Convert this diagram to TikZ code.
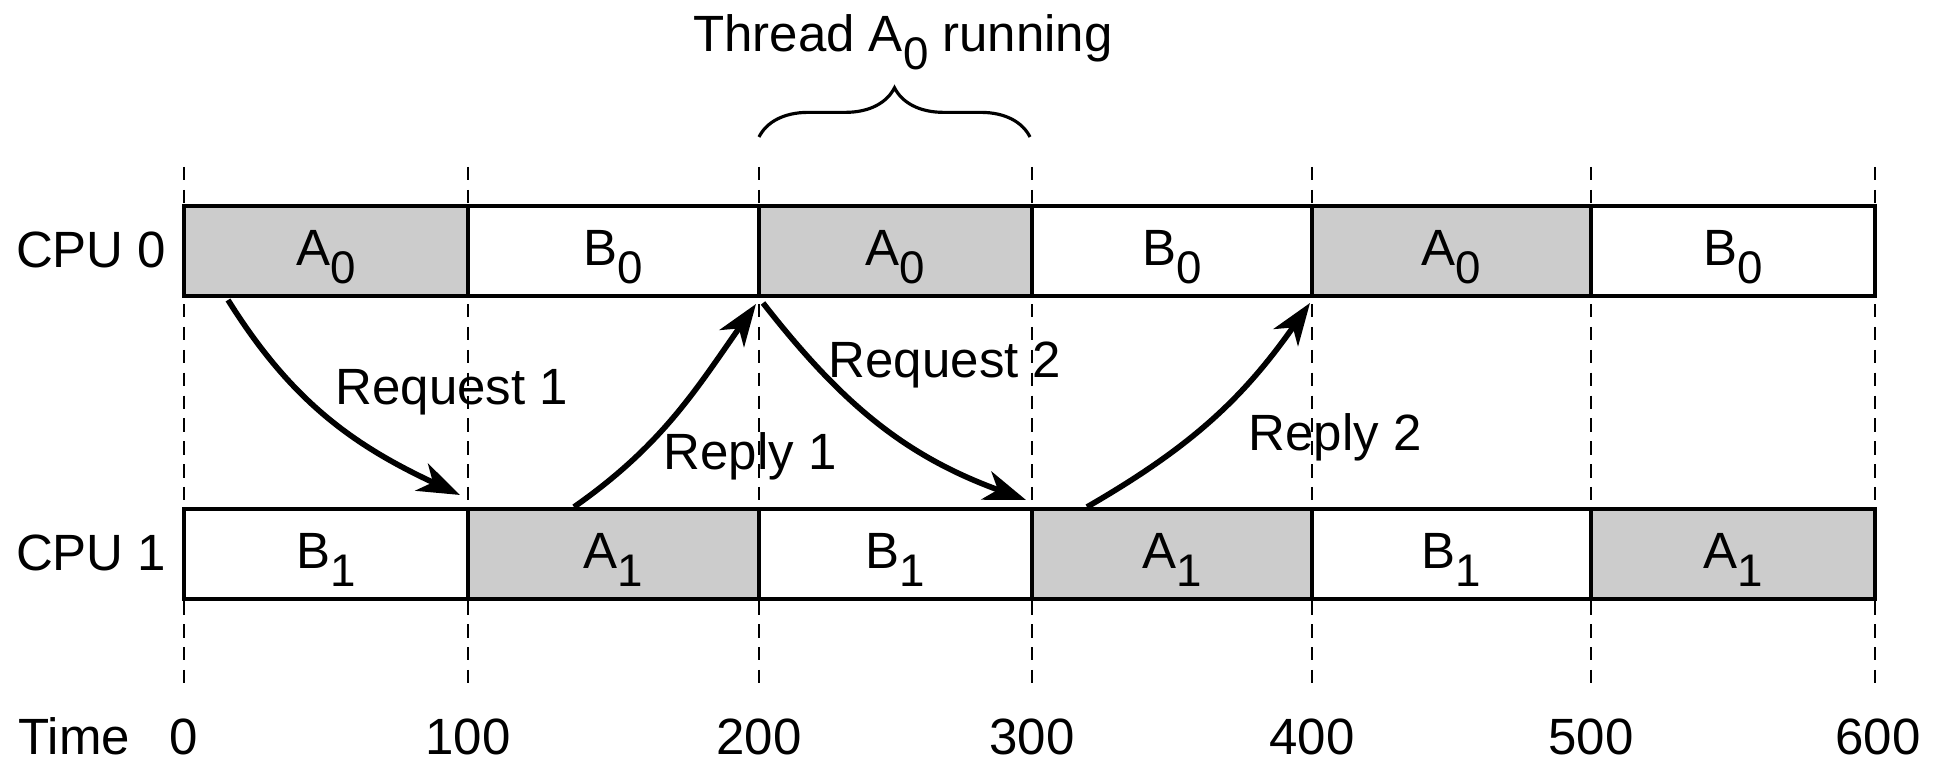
\documentclass[tikz,border=0pt]{standalone}
\usepackage{fontspec}
\setmainfont{Liberation Sans}
\usetikzlibrary{arrows.meta,decorations.pathreplacing}
\newcommand{\lsub}[1]{\raisebox{-0.34em}{\fontsize{13}{13}\selectfont #1}}
\begin{document}
\begin{tikzpicture}[x=0.01cm,y=-0.01cm,
  lbl/.style={font=\fontsize{14.5}{17}\selectfont, inner sep=0pt, anchor=base},
  slot/.style={draw=black, line width=1.3pt},
  busy/.style={slot, fill=black!20},
  idle/.style={slot, fill=white},
  gridline/.style={line width=0.75pt, dash pattern=on 3.8pt off 2.7pt},
  msg/.style={line width=1.6pt, -{Stealth[length=12pt,width=8.5pt,inset=3.5pt]}},
  bracestyle/.style={line width=0.9pt, decorate, decoration={brace, amplitude=14pt}},
]
\useasboundingbox (0,0) rectangle (1935,765);

% time grid
\foreach \x [count=\k from 0] in {184,468,759,1032,1312,1591,1875} {
  \coordinate (g\k top) at (\x,167);
  \coordinate (g\k bot) at (\x,688);
  \draw[gridline] (g\k top) -- (g\k bot);
}

% CPU 0 row
\draw[busy] (184,206) rectangle (468,296);
\draw[idle] (468,206) rectangle (759,296);
\draw[busy] (759,206) rectangle (1032,296);
\draw[idle] (1032,206) rectangle (1312,296);
\draw[busy] (1312,206) rectangle (1591,296);
\draw[idle] (1591,206) rectangle (1875,296);

% CPU 1 row
\draw[idle] (184,509) rectangle (468,599);
\draw[busy] (468,509) rectangle (759,599);
\draw[idle] (759,509) rectangle (1032,599);
\draw[busy] (1032,509) rectangle (1312,599);
\draw[idle] (1312,509) rectangle (1591,599);
\draw[busy] (1591,509) rectangle (1875,599);

% slot labels
\node[lbl] (a0a) at (326,266) {A\lsub{0}};
\node[lbl] (b0a) at (613,266) {B\lsub{0}};
\node[lbl] (a0b) at (895,266) {A\lsub{0}};
\node[lbl] (b0b) at (1172,266) {B\lsub{0}};
\node[lbl] (a0c) at (1451,266) {A\lsub{0}};
\node[lbl] (b0c) at (1733,266) {B\lsub{0}};

\node[lbl] (b1a) at (326,569) {B\lsub{1}};
\node[lbl] (a1a) at (613,569) {A\lsub{1}};
\node[lbl] (b1b) at (895,569) {B\lsub{1}};
\node[lbl] (a1b) at (1172,569) {A\lsub{1}};
\node[lbl] (b1c) at (1451,569) {B\lsub{1}};
\node[lbl] (a1c) at (1733,569) {A\lsub{1}};

% row labels
\node[lbl, anchor=base east] (cpu0) at (167,268) {CPU 0};
\node[lbl, anchor=base east] (cpu1) at (167,571) {CPU 1};

% brace and title
\coordinate (brl) at (759,137);
\coordinate (brr) at (1030,137);
\draw[bracestyle] (brl) -- (brr);
\node[lbl] (thr) at (903,52) {Thread A\lsub{0} running};

% messages
\coordinate (q1s) at (228,300);
\coordinate (q1e) at (460,495);
\coordinate (p1s) at (574,507);
\coordinate (p1e) at (756,304);
\coordinate (q2s) at (763,303);
\coordinate (q2e) at (1026,500);
\coordinate (p2s) at (1087,507);
\coordinate (p2e) at (1310,303);

\draw[msg] (q1s) to[out=-58,in=155] (q1e);
\draw[msg] (p1s) to[out=35,in=-125] (p1e);
\draw[msg] (q2s) to[out=-52,in=160] (q2e);
\draw[msg] (p2s) to[out=30,in=-125] (p2e);

\node[lbl] (lq1) at (452,405) {Request 1};
\node[lbl] (lp1) at (750,470) {Reply 1};
\node[lbl] (lq2) at (945,378) {Request 2};
\node[lbl] (lp2) at (1335,451) {Reply 2};

% time axis
\node[lbl, anchor=base west] (time) at (18,755) {Time};
\node[lbl] (t0) at (184,755) {0};
\node[lbl] (t1) at (468,755) {100};
\node[lbl] (t2) at (759,755) {200};
\node[lbl] (t3) at (1032,755) {300};
\node[lbl] (t4) at (1312,755) {400};
\node[lbl] (t5) at (1591,755) {500};
\node[lbl] (t6) at (1878,755) {600};
\end{tikzpicture}
\end{document}
